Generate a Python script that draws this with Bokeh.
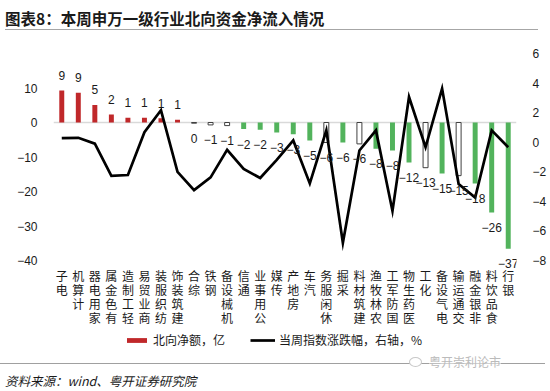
from bokeh.plotting import figure
from bokeh.models import (Range1d, LinearAxis, FixedTicker, ColumnDataSource, CDSView,
                          IndexFilter, LabelSet, Span, Legend, LegendItem, FactorRange, Div)
from bokeh.layouts import column
from bokeh.core.properties import value
from bokeh.embed import file_html
from bokeh.resources import INLINE

# ---------------- data ----------------
cats = ["电子", "计算机", "家用电器", "有色金属", "轻工制造", "商业贸易", "纺织服装",
        "建筑装饰", "综合", "钢铁", "机械设备", "通信", "公用事业", "传媒", "房地产",
        "汽车", "休闲服务", "采掘", "建筑材料", "农林牧渔", "国防军工", "医药生物",
        "化工", "电气设备", "交通运输", "非银金融", "食品饮料", "银行"]
# 北向净额（亿）
net_inflow = [9.3, 8.6, 5.1, 2.3, 1.4, 1.4, 1.2, 0.8, -0.2, -0.7, -0.9, -1.9, -2.1,
              -2.9, -3.4, -5.2, -5.8, -5.8, -6.2, -7.6, -8.1, -11.6, -13.1, -14.8,
              -15.4, -17.7, -26.1, -36.6]
# 当周指数涨跌幅（%，右轴）
index_chg = [0.27, 0.30, -0.10, -2.27, -2.22, 0.68, 2.16, -2.00, -3.24, -2.38, -0.52,
             -1.81, -2.42, -1.20, 0.12, -2.79, 0.80, -6.80, -0.56, 0.80, -4.65, 3.06,
             -0.34, 3.63, -2.83, -3.74, 0.80, -0.34]
hollow_cats = ["综合", "钢铁", "机械设备", "休闲服务", "建筑材料", "化工", "交通运输"]
left_ticks = [-40, -30, -20, -10, 0, 10]
right_ticks = [-8, -6, -4, -2, 0, 2, 4, 6]
left_max, right_max = 20, 6

title_text = "图表8：本周申万一级行业北向资金净流入情况"
source_text = "资料来源：wind、粤开证券研究院"
watermark_text = "粤开崇利论市"
legend_labels = ["北向净额，亿", "当周指数涨跌幅，右轴，%"]

# ---------------- layout (page pixels) ----------------
W = 550
HEAD_H = 36          # title block
FOOT_H = 40          # footer block
FRAME_L, FRAME_W = 53, 463
FRAME_TOP = 53       # page y of frame top (= left 20 / right 6)
AXIS_BOTTOM = 260    # page y of left -40 / right -8
FRAME_BOTTOM = 350   # page y where the figure ends
CJK = "Noto Sans CJK SC"
NUM = "Liberation Sans"
RED = "#C0282A"
GREEN = "#52B35C"


def fmt(v):
    return str(v).replace("-", "\u2212")


ppu_l = (AXIS_BOTTOM - FRAME_TOP) / (left_max - left_ticks[0])
ppu_r = (AXIS_BOTTOM - FRAME_TOP) / (right_max - right_ticks[0])
left_start = left_ticks[0] - (FRAME_BOTTOM - AXIS_BOTTOM) / ppu_l
right_start = right_ticks[0] - (FRAME_BOTTOM - AXIS_BOTTOM) / ppu_r

p = figure(x_range=FactorRange(factors=cats), y_range=Range1d(left_start, left_max),
           frame_width=FRAME_W, frame_height=FRAME_BOTTOM - FRAME_TOP,
           min_border_left=FRAME_L, min_border_right=W - FRAME_L - FRAME_W,
           min_border_top=FRAME_TOP - HEAD_H, min_border_bottom=0,
           x_axis_location=None,
           output_backend="svg", toolbar_location=None, tools="")
p.extra_y_ranges = {"right": Range1d(right_start, right_max)}
p.outline_line_color = None
p.xgrid.visible = False
p.ygrid.visible = False
p.background_fill_color = "white"
p.border_fill_color = "white"

src = ColumnDataSource(dict(
    cat=cats, val=net_inflow, chg=index_chg,
    lbl=[fmt(int(round(v))) for v in net_inflow],
    off=[15 if v > 0 else -15 for v in net_inflow],
))

red_idx = [i for i, v in enumerate(net_inflow) if v > 0 and cats[i] not in hollow_cats]
green_idx = [i for i, v in enumerate(net_inflow) if v <= 0 and cats[i] not in hollow_cats]
hollow_idx = [i for i, c in enumerate(cats) if c in hollow_cats]

zero = Span(location=0, dimension="width", line_color="#D9D9D9", line_width=1.5)
zero.level = "underlay"
p.add_layout(zero)

red = p.vbar(x="cat", top="val", bottom=0, width=0.3, source=src,
             view=CDSView(filter=IndexFilter(red_idx)), fill_color=RED, line_color=None)
p.vbar(x="cat", top="val", bottom=0, width=0.3, source=src,
       view=CDSView(filter=IndexFilter(green_idx)), fill_color=GREEN, line_color=None)
p.vbar(x="cat", top="val", bottom=0, width=0.3, source=src,
       view=CDSView(filter=IndexFilter(hollow_idx)), fill_color="white",
       line_color="#404040", line_width=1)

ln = p.line(x="cat", y="chg", source=src, y_range_name="right", line_color="black",
            line_width=2.7, line_join="miter")

p.add_layout(LabelSet(x="cat", y="val", text="lbl", y_offset="off", source=src,
                      text_align="center", text_baseline="middle",
                      text_font=value(NUM), text_font_size="12px", text_color="#1a1a1a"))

# category labels: upright characters stacked, reading bottom-to-top
ch_txt, ch_cat, ch_off = [], [], []
for c in cats:
    n = len(c)
    for j, ch in enumerate(c):
        ch_txt.append(ch)
        ch_cat.append(c)
        ch_off.append(-(15 + (n - 1 - j) * 14))
cat_src = ColumnDataSource(dict(cat=ch_cat, txt=ch_txt, off=ch_off,
                                y=[left_ticks[0]] * len(ch_txt)))
p.add_layout(LabelSet(x="cat", y="y", text="txt", y_offset="off", source=cat_src,
                      text_align="center", text_baseline="middle",
                      text_font=value(CJK), text_font_size="12px", text_color="#1a1a1a"))

# axes
ya = p.yaxis[0]
ya.ticker = FixedTicker(ticks=left_ticks)
ya.major_label_overrides = {t: fmt(t) for t in left_ticks}
ra = LinearAxis(y_range_name="right", ticker=FixedTicker(ticks=right_ticks))
ra.major_label_overrides = {t: fmt(t) for t in right_ticks}
p.add_layout(ra, "right")
for a in (ya, ra):
    a.axis_line_color = None
    a.major_tick_line_color = None
    a.minor_tick_line_color = None
    a.major_label_text_font = NUM
    a.major_label_text_font_size = "12px"
    a.major_label_text_color = "#1a1a1a"
    a.major_label_standoff = 10

# legend (inside the lower part of the frame)
legend = Legend(items=[LegendItem(label=legend_labels[0], renderers=[red]),
                       LegendItem(label=legend_labels[1], renderers=[ln])],
                location=(124 - FRAME_L, 2), orientation="horizontal",
                margin=0, padding=0, spacing=25, label_standoff=4,
                glyph_width=25, glyph_height=6, label_height=14,
                border_line_color=None, background_fill_alpha=0,
                label_text_font=CJK, label_text_font_size="12px",
                label_text_color="#1a1a1a")
p.add_layout(legend)

head = Div(width=W, height=HEAD_H, margin=0, text=(
    f'<div style="position:relative;width:{W}px;height:{HEAD_H}px;">'
    f'<div style="position:absolute;left:5px;top:8px;white-space:nowrap;'
    f'font-family:\'{CJK}\';font-weight:bold;font-size:15.5px;line-height:20px;color:#1a1a1a;">'
    f'{title_text}</div>'
    f'<div style="position:absolute;left:5px;top:28.5px;width:533px;height:1.5px;'
    f'background:#A6A6A6;"></div></div>'))

foot = Div(width=W, height=FOOT_H, margin=0, text=(
    f'<div style="position:relative;width:{W}px;height:{FOOT_H}px;">'
    f'<div style="position:absolute;left:0px;top:12.5px;width:545px;height:1px;'
    f'background:#A0A0A0;"></div>'
    f'<div style="position:absolute;left:409px;top:7px;width:13px;height:10px;'
    f'border:1px solid #C8C8C8;border-radius:50%;background:white;"></div>'
    f'<div style="position:absolute;left:429px;top:5px;white-space:nowrap;'
    f'font-family:\'{CJK}\';font-size:12px;line-height:14px;color:#BBBBBB;'
    f'background:rgba(255,255,255,0.5);">{watermark_text}</div>'
    f'<div style="position:absolute;left:5px;top:23px;white-space:nowrap;'
    f'font-family:\'{CJK}\';font-style:italic;font-size:12.5px;line-height:15px;color:#1a1a1a;">'
    f'{source_text}</div></div>'))

layout = column(head, p, foot, spacing=0, margin=0)

open("out.html", "w").write(file_html(layout, INLINE))
